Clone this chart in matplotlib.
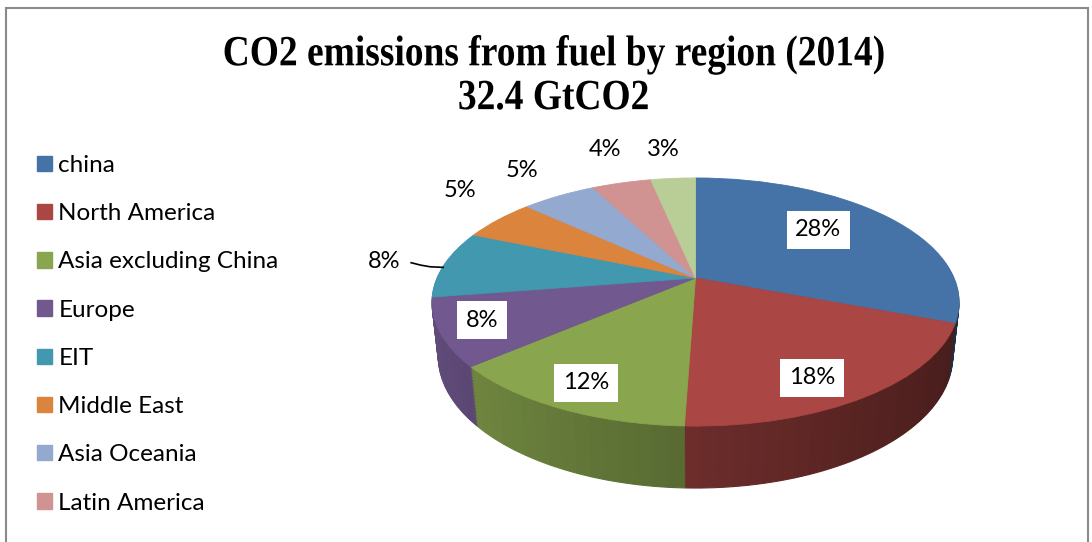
import numpy as np
import matplotlib
matplotlib.use("Agg")
import matplotlib.pyplot as plt
from matplotlib.transforms import Transform, Affine2D
from matplotlib import patheffects
from matplotlib.patches import Patch, Rectangle
import matplotlib.colors as mcolors

# ---------------- data ----------------
regions = ["china", "North America", "Asia excluding China", "Europe", "EIT",
           "Middle East", "Asia Oceania", "Latin America", "Africa"]
shares = [0.28, 0.18, 0.12, 0.08, 0.08, 0.05, 0.05, 0.04, 0.03]
colors = ["#4572A7", "#AA4643", "#89A54E", "#71588F", "#4198AF",
          "#DB843D", "#93A9CF", "#D19392", "#B9CD96"]
title = "CO2 emissions from fuel by region (2014)\n32.4 GtCO2"
n_legend_visible = 8       # the reference legend shows only the first 8 entries

# ---------------- layout / style ----------------
W, H = 1092, 542
R = 258.6                  # pie radius in pixels
CX, CY = 695.5, 278.0      # pie apex in pixels (from top-left)
PHI = np.radians(27.5)     # view elevation
S, C = np.sin(PHI), np.cos(PHI)
D = 4.583                  # perspective distance (in radii)
DEPTH = 0.24               # pie thickness (in radii)
N_LAYERS = 40
label_r = [0.675, 0.818, 0.834, 0.840, 1.244, 1.358, 1.354, 1.423, 1.362]
label_dth = [5.7, -5.3, 0.0, -1.6, 0.5, -6.1, -0.8, -1.7, 0.6]
inner = [True, True, True, True, False, False, False, False, False]
FONT = "Lato"


class Persp(Transform):
    input_dims = 2
    output_dims = 2
    is_separable = False
    has_inverse = False

    def __init__(self, z):
        super().__init__()
        self.z = z

    def transform_non_affine(self, xy):
        xy = np.asarray(xy, dtype=float)
        x, y = xy[:, 0], xy[:, 1]
        v = y * S + self.z * C
        w = y * C - self.z * S
        f = D / (D + w)
        return np.column_stack([x * f, v * f])


class Condense(patheffects.AbstractPathEffect):
    def __init__(self, sx, cx):
        super().__init__()
        self.sx, self.cx = sx, cx

    def draw_path(self, renderer, gc, tpath, affine, rgbFace=None):
        aff = affine + Affine2D().translate(-self.cx, 0).scale(self.sx, 1).translate(self.cx, 0)
        renderer.draw_path(gc, tpath, aff, rgbFace)


fig = plt.figure(figsize=(W / 100, H / 100), dpi=100)
fig.patch.set_facecolor("white")
ax = fig.add_axes([0, 0, 1, 1])

total = sum(shares)

# ---- side walls: stacked layers of sub-divided pies with angle shading ----
sub_vals, sub_cols = [], []
cum = 0.0
for v, col in zip(shares, colors):
    m = max(2, int(round(v / total * 360 / 3)))
    base = np.array(mcolors.to_rgb(col))
    for j in range(m):
        mid = cum + v * (j + 0.5) / m
        theta = np.radians(90 - 360 * mid / total)
        fac = 0.635 - 0.226 * np.cos(theta)
        sub_vals.append(v / m)
        sub_cols.append(tuple(np.clip(base * fac, 0, 1)))
    cum += v

for k in range(N_LAYERS):
    z = -DEPTH + DEPTH * k / N_LAYERS
    wedges, _ = ax.pie(sub_vals, colors=sub_cols, startangle=90, counterclock=False,
                       wedgeprops=dict(linewidth=0.8))
    tr = Persp(z) + ax.transData
    for w_, c_ in zip(wedges, sub_cols):
        w_.set_edgecolor(c_)
        w_.set_transform(tr)

# ---- top face ----
top, _ = ax.pie(shares, colors=colors, startangle=90, counterclock=False,
                wedgeprops=dict(linewidth=0.6))
tr0 = Persp(0.0) + ax.transData
for w_, c_ in zip(top, colors):
    w_.set_edgecolor(c_)
    w_.set_transform(tr0)

# ---- data labels ----
p0 = Persp(0.0)
cum = 0.0
for i, v in enumerate(shares):
    mid = cum + v / 2
    cum += v
    th0 = np.radians(90 - 360 * mid / total)
    th = th0 + np.radians(label_dth[i])
    r = label_r[i]
    X, Y = p0.transform_non_affine(np.array([[r * np.cos(th), r * np.sin(th)]]))[0]
    kw = dict(ha="center", va="center", fontsize=17, family=FONT, color="black", zorder=20)
    if inner[i]:
        kw["bbox"] = dict(boxstyle="square,pad=0.36", facecolor="white", edgecolor="none")
    ax.text(X, Y, f"{v:.0%}", **kw)
    if not inner[i] and r < 1.3:
        ang = np.array([th0 + 0.005, th0 + 0.02, th0 + 0.02, th0])
        rad = np.array([1.135, 1.09, 1.05, 1.0])
        ax.plot(rad * np.cos(ang), rad * np.sin(ang) - np.array([0, 0.0, 0.01, 0.03]),
                color="black", lw=1.2, transform=tr0, zorder=19)

ax.set_aspect("auto")
ax.set_xlim(-CX / R, (W - CX) / R)
ax.set_ylim(-(H - CY) / R, CY / R)
ax.axis("off")

# ---- title ----
tcx = 553.5
fig.text(tcx / W, 1 - 77 / H, title, ha="center", va="center", multialignment="center",
         fontsize=31, fontweight="bold", family="Liberation Serif", linespacing=1.2,
         path_effects=[Condense(0.87, tcx)])

# ---- legend ----
handles = [Patch(facecolor=c, edgecolor=c) for c in colors[:n_legend_visible]]
fig.legend(handles=handles, labels=regions[:n_legend_visible], loc="upper left",
           bbox_to_anchor=(37 / W, 1 - 155 / H), frameon=False,
           prop=dict(family=FONT, size=17.5), handlelength=0.6, handleheight=0.6,
           handletextpad=0.28, labelspacing=1.12, borderpad=0, borderaxespad=0)

# ---- chart border ----
fig.patches.append(Rectangle((6 / W, -0.05), (1088 - 6) / W, 1.05 - 8 / H,
                             transform=fig.transFigure, fill=False,
                             edgecolor="#8a8a8a", linewidth=1.5))

fig.savefig("out.png", dpi=100)
